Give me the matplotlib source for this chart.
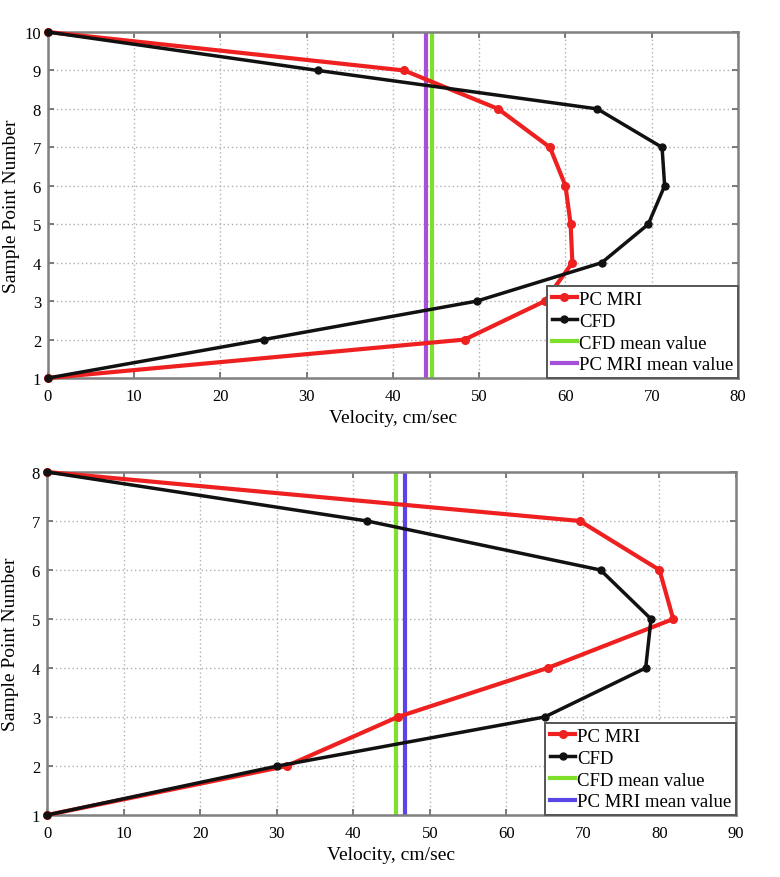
import matplotlib
matplotlib.use("Agg")
import matplotlib.pyplot as plt

# top panel: 10 sample points
pts_top = [1, 2, 3, 4, 5, 6, 7, 8, 9, 10]
pcmri_top = [0, 48.3, 57.6, 60.8, 60.6, 60.0, 58.2, 52.2, 41.3, 0]
cfd_top = [0, 25.0, 49.7, 64.2, 69.6, 71.5, 71.2, 63.7, 31.3, 0]
cfd_mean_top = 44.5
pcmri_mean_top = 43.8
xticks_top = [0, 10, 20, 30, 40, 50, 60, 70, 80]

# bottom panel: 8 sample points
pts_bot = [1, 2, 3, 4, 5, 6, 7, 8]
pcmri_bot = [0, 31.3, 45.8, 65.4, 81.8, 80.0, 69.6, 0]
cfd_bot = [0, 30.1, 65.0, 78.2, 78.9, 72.3, 41.8, 0]
cfd_mean_bot = 45.6
pcmri_mean_bot = 46.7
xticks_bot = [0, 10, 20, 30, 40, 50, 60, 70, 80, 90]

plt.rcParams['font.family'] = ['Liberation Serif', 'DejaVu Serif']

fig = plt.figure(figsize=(7.8, 8.78), dpi=100)
ax1 = fig.add_axes([0.0615, 0.5683, 0.8846, 0.3941])
ax2 = fig.add_axes([0.0603, 0.0706, 0.8833, 0.3907])


def draw_panel(ax, pts, pcmri, cfd, cfd_mean, pc_mean, pc_mean_color, xticks, xlab_y):
    ax.plot(pcmri, pts, color='#ee2020', linewidth=3, marker='o', markersize=5.5,
            label='PC MRI', zorder=3, clip_on=False)
    ax.plot(cfd, pts, color='#111111', linewidth=2.5, marker='o', markersize=5,
            label='CFD', zorder=4, clip_on=False)
    ax.axvline(cfd_mean, color='#7ee02a', linewidth=3, label='CFD mean value', zorder=2)
    ax.axvline(pc_mean, color=pc_mean_color, linewidth=3, label='PC MRI mean value', zorder=2)

    ax.set_xlim(xticks[0], xticks[-1])
    ax.set_ylim(pts[0], pts[-1])
    ax.set_xticks(xticks)
    ax.set_yticks(pts)
    ax.grid(True, color='#b0b0b0', linestyle=(0, (1, 2)), linewidth=1)
    ax.tick_params(direction='in', length=4, width=1.2, color='#666666', labelsize=12,
                   top=True, right=True)
    ax.tick_params(axis='x', pad=7)
    ax.tick_params(axis='y', pad=5)
    for s in ax.spines.values():
        s.set_color('#808080')
        s.set_linewidth(1.8)
    ax.set_xlabel('Velocity, cm/sec', fontsize=14)
    ax.set_ylabel('Sample Point Number', fontsize=14)
    ax.xaxis.set_label_coords(0.5, xlab_y)
    ax.yaxis.set_label_coords(-0.04, 0.5)

    leg = ax.legend(loc='lower right', fontsize=13.5, frameon=True, fancybox=False,
                    borderaxespad=0.0, handlelength=1.35, handletextpad=0.1,
                    labelspacing=0.25, borderpad=0.25)
    leg.get_frame().set_edgecolor('#555555')
    leg.get_frame().set_linewidth(1.4)
    leg.get_frame().set_alpha(1)


draw_panel(ax1, pts_top, pcmri_top, cfd_top, cfd_mean_top, pcmri_mean_top,
           '#a64fd8', xticks_top, -0.09)
draw_panel(ax2, pts_bot, pcmri_bot, cfd_bot, cfd_mean_bot, pcmri_mean_bot,
           '#5a46e6', xticks_bot, -0.09)

plt.savefig('out.png', dpi=100)
